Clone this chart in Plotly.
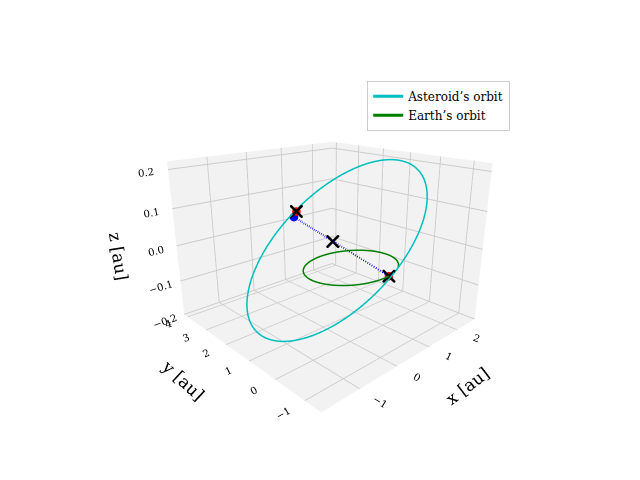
import numpy as np
import plotly.graph_objects as go

# orbital geometry (au)
earth_radius = 1.0
ast_center = [0.1, 0.55, 0.045]
ast_major = [1.95, -0.15, 0.16]   # half-axis vector
ast_minor = [0.05, -1.6, -0.045]  # half-axis vector

red_x = [0.05, 0.15]
red_y = [2.1, -0.99]
red_z = [0.09, 0.0]
blue_pt = [0.01, 2.15, 0.075]
black_x = [0.07, 0.74, 0.041]

t = np.linspace(0, 2 * np.pi, 300)
ast = [ast_center[k] + ast_major[k] * np.cos(t) + ast_minor[k] * np.sin(t) for k in range(3)]

fig = go.Figure()
fig.add_trace(go.Scatter3d(x=ast[0], y=ast[1], z=ast[2], mode="lines",
                           line=dict(color="#00bfbf", width=3), name="Asteroid’s orbit"))
fig.add_trace(go.Scatter3d(x=earth_radius * np.cos(t), y=earth_radius * np.sin(t), z=0 * t,
                           mode="lines", line=dict(color="green", width=3), name="Earth’s orbit"))
fig.add_trace(go.Scatter3d(x=[blue_pt[0], red_x[1]], y=[blue_pt[1], red_y[1]], z=[blue_pt[2], red_z[1]],
                           mode="lines", line=dict(color="blue", width=4, dash="dash"), showlegend=False))
fig.add_trace(go.Scatter3d(x=[blue_pt[0]], y=[blue_pt[1]], z=[blue_pt[2]], mode="markers",
                           marker=dict(color="blue", size=5), showlegend=False))
fig.add_trace(go.Scatter3d(x=red_x, y=red_y, z=red_z, mode="markers",
                           marker=dict(color="red", size=5, symbol="circle"), showlegend=False))
fig.add_trace(go.Scatter3d(x=red_x + [black_x[0]], y=red_y + [black_x[1]], z=red_z + [black_x[2]],
                           mode="markers", marker=dict(color="black", size=3, symbol="x"), showlegend=False))

ax = dict(backgroundcolor="#f2f2f2", gridcolor="#cccccc", showbackground=True,
          zeroline=False, tickfont=dict(size=11), showspikes=False)
fig.update_layout(
    width=640, height=480, paper_bgcolor="white",
    font=dict(family="DejaVu Serif", color="black"),
    margin=dict(l=40, r=40, t=20, b=20),
    legend=dict(x=0.57, y=0.88, bordercolor="#cccccc", borderwidth=1, font=dict(size=12)),
    scene=dict(
        xaxis=dict(ax, title=dict(text="x [au]", font=dict(size=17)), range=[-1.9, 2.7], tickvals=[-1, 0, 1, 2]),
        yaxis=dict(ax, title=dict(text="y [au]", font=dict(size=17)), range=[-1.5, 4.2], tickvals=[-1, 0, 1, 2, 3, 4]),
        zaxis=dict(ax, title=dict(text="z [au]", font=dict(size=17)), range=[-0.2, 0.22],
                   tickvals=[-0.2, -0.1, 0, 0.1, 0.2], ticktext=["−0.2", "−0.1", "0.0", "0.1", "0.2"]),
        aspectmode="manual", aspectratio=dict(x=1, y=1, z=0.75),
        camera=dict(eye=dict(x=-1.42, y=-1.52, z=0.72), center=dict(x=0, y=0, z=-0.02)),
        domain=dict(x=[0.1, 0.9], y=[0.05, 0.95]),
    ),
)
fig.write_html("out.html")
